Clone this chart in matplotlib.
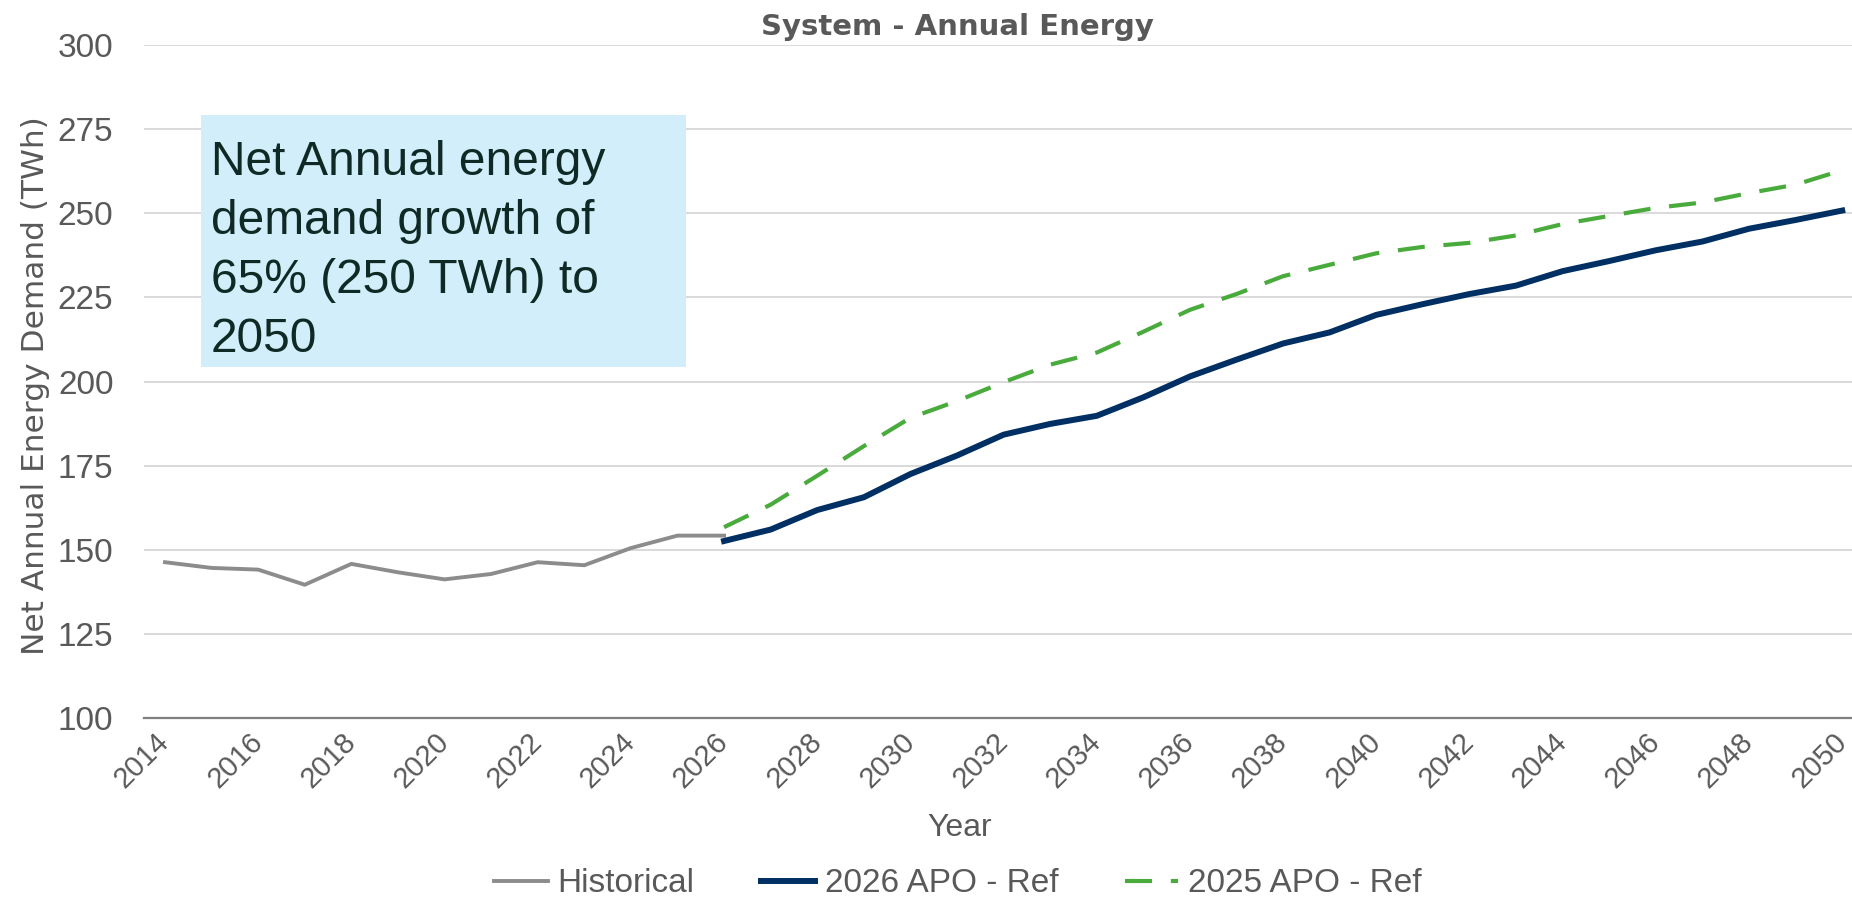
import numpy as np
import matplotlib
matplotlib.use('Agg')
import matplotlib.pyplot as plt
from matplotlib.patches import Rectangle

# data (TWh)
hist_years = [2014, 2015, 2016, 2017, 2018, 2019, 2020, 2021, 2022, 2023, 2024, 2025, 2026]
hist_vals = [146.3, 144.6, 144.1, 139.6, 145.8, 143.3, 141.2, 142.8, 146.3, 145.4, 150.5, 154.2, 154.2]

fc_years = list(range(2026, 2051))
apo_2026 = [152.6, 156.0, 161.8, 165.6, 172.5, 178.0, 184.2, 187.4, 189.8, 195.3, 201.5,
            206.5, 211.3, 214.6, 219.8, 223.0, 226.0, 228.5, 232.8, 235.8, 239.0, 241.6,
            245.4, 248.0, 250.8]
apo_2025 = [156.7, 163.4, 172.0, 180.8, 189.2, 194.2, 199.8, 205.0, 208.6, 214.8, 221.3,
            226.0, 231.3, 234.7, 238.1, 240.0, 241.2, 243.4, 246.8, 249.2, 251.6, 253.2,
            256.0, 258.5, 262.8]

yticks = [100, 125, 150, 175, 200, 225, 250, 275, 300]
xticks = list(range(2014, 2051, 2))

note = "Net Annual energy\ndemand growth of\n65% (250 TWh) to\n2050"

narrow = 'Liberation Sans'
grey_txt = '#595959'

fig = plt.figure(figsize=(18.52, 9.02), dpi=100)
ax = fig.add_axes([144 / 1852, 1 - 718 / 902, 1 - 144 / 1852, (718 - 45) / 902])

ax.plot(hist_years, hist_vals, color='#8c8c8c', lw=2.8, label='Historical')
ax.plot(fc_years, apo_2026, color='#002f63', lw=4.3, label='2026 APO - Ref')
ax.plot(fc_years, apo_2025, color='#4aab3d', lw=3.0, dashes=(6.5, 4.5), label='2025 APO - Ref')

ax.set_xlim(2013.55, 2050.21)
ax.set_ylim(100, 300)
ax.set_yticks(yticks)
ax.set_xticks(xticks)
ax.grid(axis='y', color='#d9d9d9', lw=1.4)
ax.set_axisbelow(True)
for s in ['top', 'right', 'left']:
    ax.spines[s].set_visible(False)
ax.spines['bottom'].set_color('#7f7f7f')
ax.spines['bottom'].set_linewidth(1.6)
ax.tick_params(length=0)
ax.tick_params(axis='y', pad=22, labelcolor=grey_txt)
ax.tick_params(axis='x', pad=14, labelcolor=grey_txt)
for lb in ax.get_yticklabels():
    lb.set_family(narrow)
    lb.set_fontsize(24)
for lb in ax.get_xticklabels():
    lb.set_family(narrow)
    lb.set_fontsize(21)
    lb.set_rotation(45)
    lb.set_ha('right')
    lb.set_va('center')
    lb.set_rotation_mode('anchor')

ax.set_ylabel('Net Annual Energy Demand (TWh)', fontsize=22.5, color=grey_txt, family='DejaVu Sans')
ax.yaxis.set_label_coords(-(144 - 50) / (1852 - 144), (718 - 386) / (718 - 45))
ax.set_xlabel('Year', fontsize=23, color=grey_txt, family=narrow)
ax.xaxis.set_label_coords((960 - 144) / (1852 - 144), -(813 - 718) / (718 - 45))

fig.text(957 / 1852, 1 - 27 / 902, 'System - Annual Energy', ha='center', va='center',
         fontsize=21, fontweight='bold', color=grey_txt, family='DejaVu Sans')

# blue call-out box
fig.patches.append(Rectangle((201 / 1852, 1 - 367 / 902), (686 - 201) / 1852, (367 - 115) / 902,
                             transform=fig.transFigure, facecolor='#d2eefb', edgecolor='none', zorder=5))
fig.text(211 / 1852, 1 - 140 / 902, note, ha='left', va='top', fontsize=34.5, color='#0f2a24',
         family='Liberation Sans', linespacing=1.4, zorder=6)

fig.legend(loc='center', bbox_to_anchor=(958 / 1852, 1 - 884 / 902), ncol=3, frameon=False,
           prop={'family': narrow, 'size': 24}, labelcolor=grey_txt, handlelength=1.6,
           handletextpad=0.3, columnspacing=2.0)

fig.savefig('out.png', dpi=100)
